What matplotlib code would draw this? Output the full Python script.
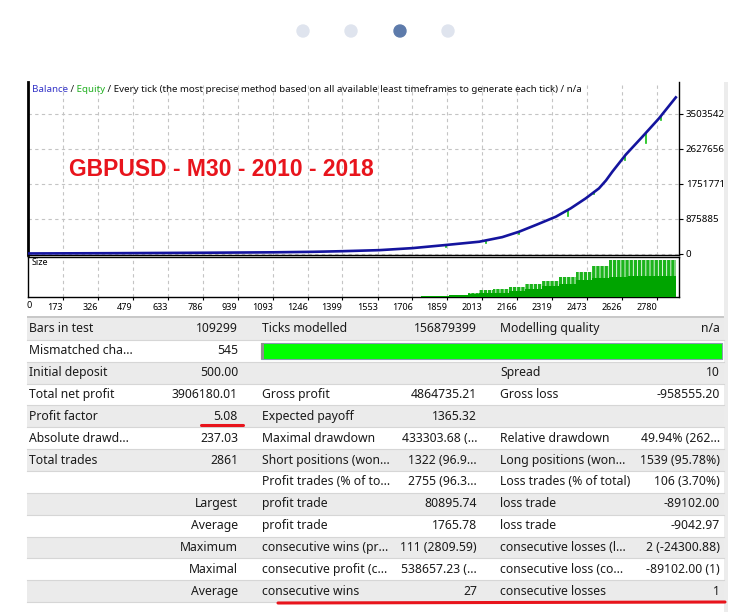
import numpy as np
import matplotlib.pyplot as plt
import matplotlib.transforms as mtransforms
from matplotlib.patches import Rectangle, Circle

# balance curve (trade number -> balance)
balance_t = [0, 400, 800, 1100, 1268, 1400, 1561, 1707, 1853, 1999, 2100, 2174, 2250,
             2335, 2400, 2466, 2524, 2555, 2583, 2641, 2714, 2787, 2861]
balance_v = [500, 8000, 19000, 30000, 42000, 58000, 84000, 135000, 213000, 295000,
             410000, 546000, 720000, 921000, 1130000, 1380000, 1630000, 1830000,
             2050000, 2470000, 2920000, 3380000, 3906680]

# equity dips below the balance (trade, top, bottom)
equity_t = [1854, 2030, 2174, 2389, 2502, 2638, 2730, 2796]
equity_hi = [213000, 310000, 546000, 1090000, 1540000, 2450000, 3010000, 3420000]
equity_lo = [170000, 260000, 490000, 930000, 1480000, 2340000, 2770000, 3330000]

# lot size blocks (start trade of each block)
size_t = [1745, 1868, 1950, 2000, 2060, 2130, 2200, 2275, 2350, 2424, 2494, 2568,
          2650, 2750, 2861]
size_base = [3, 5, 8, 10, 12, 15, 22, 30, 35, 45, 50, 55, 57, 58, 58]
size_peak = [3, 6, 12, 18, 22, 28, 35, 42, 55, 68, 85, 100, 100, 100, 100]

y_ticks = [0, 875885, 1751771, 2627656, 3503542]
x_ticks = [173, 326, 479, 633, 786, 939, 1093, 1246, 1399, 1553, 1706, 1859, 2013,
           2166, 2319, 2473, 2626, 2780]

col1_label = ["Bars in test", "Mismatched cha...", "Initial deposit", "Total net profit",
              "Profit factor", "Absolute drawd...", "Total trades", "", "", "", "", "", ""]
col1_value = ["109299", "545", "500.00", "3906180.01", "5.08", "237.03", "2861", "",
              "Largest", "Average", "Maximum", "Maximal", "Average"]
col2_label = ["Ticks modelled", "", "", "Gross profit", "Expected payoff",
              "Maximal drawdown", "Short positions (won...", "Profit trades (% of to...",
              "profit trade", "profit trade", "consecutive wins (pr...",
              "consecutive profit (c...", "consecutive wins"]
col2_value = ["156879399", "", "", "4864735.21", "1365.32", "433303.68 (...",
              "1322 (96.9...", "2755 (96.3...", "80895.74", "1765.78", "111 (2809.59)",
              "538657.23 (...", "27"]
col3_label = ["Modelling quality", "", "Spread", "Gross loss", "", "Relative drawdown",
              "Long positions (won...", "Loss trades (% of total)", "loss trade",
              "loss trade", "consecutive losses (l...", "consecutive loss (co...",
              "consecutive losses"]
col3_value = ["n/a", "", "10", "-958555.20", "", "49.94% (262...", "1539 (95.78%)",
              "106 (3.70%)", "-89102.00", "-9042.97", "2 (-24300.88)", "-89102.00 (1)", "1"]

W, H = 750, 612
FONT = "Noto Sans"
plt.rcParams["hatch.linewidth"] = 2.4


def box(x0, y0, x1, y1):
    return [x0 / W, 1 - y1 / H, (x1 - x0) / W, (y1 - y0) / H]


fig = plt.figure(figsize=(7.5, 6.12), dpi=100)
fig.patch.set_facecolor("white")

grid_kw = dict(color="#c4c4c4", linestyle=(0, (3, 3)), linewidth=0.8)
XMIN, XMAX = 20, 2875

# --- balance / equity chart
ax = fig.add_axes(box(28, 82, 679, 255))
for t, hi, lo in zip(equity_t, equity_hi, equity_lo):
    ax.plot([t, t], [lo, hi], color="#10c010", lw=1.2, zorder=2)
ax.plot(balance_t, balance_v, color="#14149e", lw=1.9, zorder=3)
ax.set_xlim(XMIN, XMAX)
ax.set_ylim(-37500, 4292000)
ax.set_xticks(x_ticks)
ax.set_xticklabels([])
ax.tick_params(axis="x", length=0)
ax.yaxis.tick_right()
ax.set_yticks(y_ticks)
ax.set_yticklabels([str(v) for v in y_ticks], fontsize=7, family=FONT)
ax.tick_params(axis="y", length=3, pad=2, width=0.8)
ax.grid(True, **grid_kw)
ax.spines["top"].set_visible(False)
ax.spines["left"].set_linewidth(2)
ax.spines["right"].set_linewidth(1.0)
ax.spines["bottom"].set_linewidth(1.0)

# --- size chart
axs = fig.add_axes(box(28, 257, 679, 297))
axs.fill_between(size_t, 0, size_peak, step="post", facecolor="white",
                 edgecolor="#1cb41c", hatch="||||", linewidth=0, zorder=2)
axs.fill_between(size_t, 0, size_base, step="post", color="#00a400", lw=0, zorder=3)
axs.set_xlim(XMIN, XMAX)
axs.set_ylim(0, 108)
axs.set_yticks([])
axs.set_xticks(x_ticks)
axs.set_xticklabels([str(v) for v in x_ticks], fontsize=6.5, family=FONT, ha="right")
shift = mtransforms.ScaledTranslation(-2 / 100, 0, fig.dpi_scale_trans)
for lab in axs.get_xticklabels():
    lab.set_transform(lab.get_transform() + shift)
axs.tick_params(axis="x", length=2, pad=2, width=0.8)
axs.grid(True, axis="x", **grid_kw)
for s in axs.spines.values():
    s.set_linewidth(1.0)
axs.text(0.006, 0.8, "Size", transform=axs.transAxes, fontsize=6.5, family=FONT)
axs.text(-0.003, -0.22, "0", transform=axs.transAxes, fontsize=6.5, family=FONT,
         va="center", ha="left")

# --- overlay in pixel coordinates
ov = fig.add_axes([0, 0, 1, 1])
ov.set_xlim(0, W)
ov.set_ylim(H, 0)
ov.axis("off")
ov.patch.set_visible(False)

# pager dots
for i, cx in enumerate([303, 351, 400, 448]):
    ov.add_patch(Circle((cx, 31), 6, color="#5d7bab" if i == 2 else "#dfe4ee"))

# right light edge of screenshot
ov.add_patch(Rectangle((724, 82), 4, 530, color="#ececec", lw=0))

# title on the chart
ov.text(221, 170, "GBPUSD - M30 - 2010 - 2018", color="#e8141c", fontsize=16.5,
        fontweight="bold", family="Liberation Sans", ha="center", va="center")

# header line with coloured words
fig.canvas.draw()
rend = fig.canvas.get_renderer()
parts = [("Balance", "#3434c8"), (" /", "#222222"), (" Equity", "#22b022"),
         (" / Every tick (the most precise method based on all available least "
          "timeframes to generate each tick) / n/a", "#111111")]
hx = 32
for txt, col in parts:
    t = ov.text(hx, 90, txt, color=col, fontsize=7.0, family=FONT, va="center")
    hx += t.get_window_extent(rend).width

# table
row_h = 21.85
top = 318
ov.add_patch(Rectangle((27, top - 2), 697, 2, color="#c8c8c8", lw=0))
for i in range(len(col1_label)):
    y0 = top + i * row_h
    yc = y0 + row_h / 2
    ov.add_patch(Rectangle((27, y0), 697, row_h,
                           facecolor="#ebebeb" if i % 2 == 0 else "white", lw=0))
    ov.plot([27, 724], [y0 + row_h, y0 + row_h], color="#d6d6d6", lw=0.8)
    kw = dict(fontsize=8.8, family=FONT, va="center", color="#1a1a1a")
    ov.text(29, yc, col1_label[i], ha="left", **kw)
    ov.text(238, yc, col1_value[i], ha="right", **kw)
    ov.text(262, yc, col2_label[i], ha="left", **kw)
    ov.text(477, yc, col2_value[i], ha="right", **kw)
    ov.text(500, yc, col3_label[i], ha="left", **kw)
    ov.text(720, yc, col3_value[i], ha="right", **kw)

# modelling quality bar
ov.add_patch(Rectangle((261, 342.5), 461, 16, facecolor="#00ff00",
                       edgecolor="#8a9ab0", lw=0.8))
ov.add_patch(Rectangle((261, 342.5), 3, 16, facecolor="#909090", lw=0))

# red underlines
ov.plot([201, 243], [424.5, 424.5], color="#e8141c", lw=2.2, solid_capstyle="round")
ov.plot([278, 725], [603, 602], color="#e8141c", lw=2.2, solid_capstyle="round")

fig.savefig("out.png", dpi=100)
